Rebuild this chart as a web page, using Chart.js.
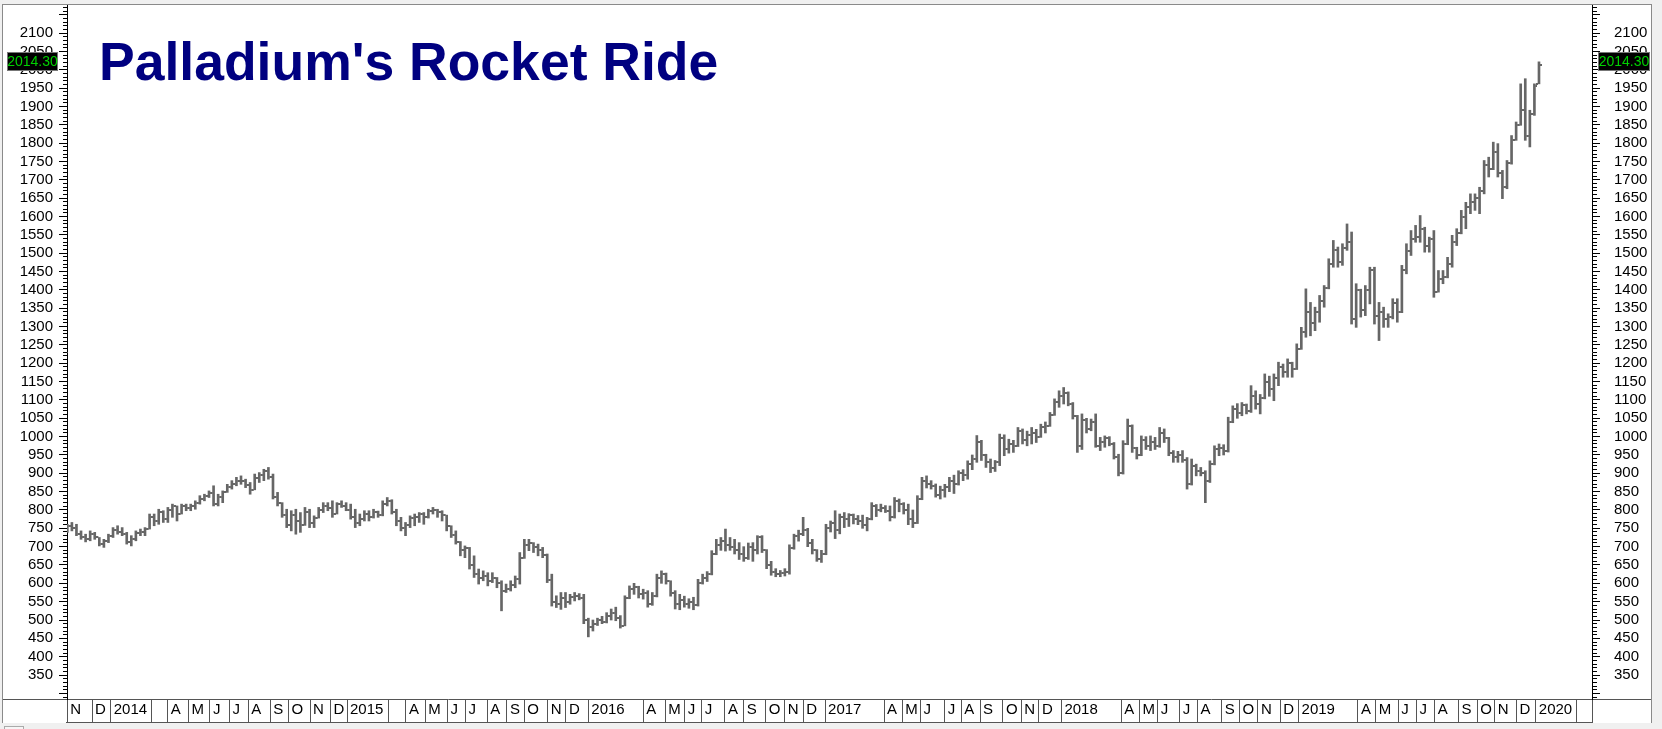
<!DOCTYPE html>
<html>
<head>
<meta charset="utf-8">
<script src="https://cdn.jsdelivr.net/npm/chart.js@4.4.1/dist/chart.umd.min.js"></script>
<style>
  html, body { margin: 0; padding: 0; background: #f0f0f0; }
  #wrap { position: relative; width: 1662px; height: 729px; overflow: hidden; background: #f0f0f0; }
  #panel { position: absolute; left: 2px; top: 4px; width: 1650px; height: 719px; background: #fff;
           border-top: 1px solid #8a8a8a; border-left: 1px solid #8a8a8a; border-right: 1px solid #8a8a8a; box-sizing: border-box; }
  #hline { position: absolute; left: 3px; top: 699px; width: 64px; height: 1px; background: #555; }
  #hline2 { position: absolute; left: 1592px; top: 699px; width: 59px; height: 1px; background: #555; }
  #bline { position: absolute; left: 66px; top: 722px; width: 1527px; height: 1px; background: #555; }
  #tab { position: absolute; left: 4px; top: 726px; width: 18px; height: 10px; border: 1px solid #aaa; background: #f6f6f6; }
  canvas { position: absolute; left: 0; top: 0; }
</style>
</head>
<body>
<div id="wrap">
  <div id="panel"></div>
  <div id="hline"></div>
  <div id="hline2"></div>
  <div id="bline"></div>
  <div id="tab"></div>
  <canvas id="c" width="1662" height="729"></canvas>
</div>
<script>
// ---- Data (weekly OHLC, palladium, Nov 2013 - Jan 2020) ----
const title = "Palladium's Rocket Ride";
const lastLabel = "2014.30";

const opens = [
745,755,750,735,725,720,735,725,708,715,730,745,740,735,712,720,738,740,748,780,
770,795,775,800,810,790,810,805,812,818,830,838,845,815,835,848,862,870,880,878,
868,855,888,895,905,890,835,818,785,760,785,770,760,795,765,778,800,812,805,790,
815,810,800,780,765,775,788,780,795,785,815,825,795,770,752,760,778,782,788,780,
798,800,795,785,755,732,712,690,695,650,625,615,620,605,615,600,580,585,595,612,
670,705,710,700,690,678,610,550,545,560,550,562,565,560,500,480,490,500,495,510,
520,505,485,560,585,590,570,575,545,565,615,625,605,575,545,555,545,550,540,600,
615,625,680,705,715,705,700,690,680,670,700,690,725,690,650,630,625,628,630,695,
728,735,745,710,690,665,680,750,765,745,780,775,785,775,770,760,775,810,800,805,
798,780,825,815,800,775,765,830,880,870,865,840,855,862,880,870,900,895,925,940,
985,950,930,915,930,995,965,980,975,1015,990,1005,1010,1000,1025,1030,1060,1095,1110,1120,
1090,1055,975,1045,1020,1040,975,985,995,980,945,900,980,1030,970,950,990,975,985,975,
1010,995,955,945,950,935,870,920,905,900,880,925,965,970,960,1040,1075,1065,1085,1070,
1110,1090,1105,1150,1130,1160,1190,1175,1200,1185,1240,1285,1340,1310,1340,1370,1405,1470,1510,1475,
1515,1530,1320,1400,1345,1400,1455,1330,1340,1320,1325,1365,1340,1455,1505,1540,1545,1565,1520,1540,
1395,1430,1435,1470,1530,1555,1600,1625,1640,1650,1670,1740,1730,1775,1720,1680,1745,1810,1850,1890,
1820,1880,1962];

const highs = [
761,766,761,743,734,743,739,725,720,734,752,757,752,739,730,743,748,752,789,789,
802,798,807,816,811,816,816,816,825,839,843,852,866,843,852,870,880,889,893,884,
875,898,902,911,916,898,848,820,802,798,802,793,807,802,784,807,820,820,825,820,
825,820,816,802,789,798,798,802,797,825,834,828,802,780,766,784,789,793,793,802,
807,802,798,786,757,743,714,702,698,675,639,634,629,629,616,607,598,607,620,684,
720,720,711,707,698,680,625,566,575,575,570,575,572,570,505,500,505,510,520,530,
535,512,566,593,600,592,584,580,575,625,634,628,607,580,570,565,558,562,611,625,
632,689,720,725,748,725,720,711,700,710,711,730,730,692,660,640,635,640,705,734,
745,780,750,720,692,690,761,770,798,789,793,790,789,785,786,780,820,815,816,812,
811,834,830,820,816,800,839,889,893,880,871,865,870,889,895,907,910,934,950,1003,
990,952,939,935,1007,1005,993,990,1025,1021,1015,1025,1020,1034,1040,1066,1103,1125,1134,1122,
1093,1058,1062,1050,1048,1062,998,1002,1000,984,952,989,1048,1032,971,1002,1000,1002,998,1025,
1021,998,962,960,962,943,939,925,916,907,934,975,980,978,1053,1084,1090,1093,1089,1139,
1125,1115,1171,1165,1171,1203,1198,1212,1203,1253,1298,1403,1366,1353,1385,1412,1485,1535,1517,1526,
1580,1558,1417,1402,1412,1462,1462,1366,1353,1335,1376,1376,1467,1526,1562,1576,1603,1571,1544,1562,
1453,1453,1489,1549,1567,1617,1639,1662,1662,1680,1753,1762,1803,1799,1726,1753,1821,1858,1962,1976,
1890,1962,2022];

const lows = [
739,743,730,720,713,716,720,702,698,711,725,734,730,707,702,716,730,730,748,757,
761,766,766,780,770,789,798,798,802,816,825,834,811,811,820,848,857,866,870,861,
843,855,875,880,884,830,811,780,752,743,734,739,758,752,752,778,793,798,780,789,
807,798,775,752,757,770,770,778,780,784,811,789,757,743,730,752,757,766,761,778,
789,780,770,743,725,707,675,670,639,616,598,607,593,602,588,525,575,579,588,598,
668,689,684,675,670,602,538,534,529,534,543,552,555,490,454,470,485,490,492,500,
498,478,484,558,570,560,557,535,540,563,600,598,565,530,528,535,532,528,538,598,
605,623,678,690,688,690,680,665,660,665,660,680,684,640,622,618,618,620,625,693,
715,730,700,680,660,657,678,740,722,735,752,755,762,760,750,743,773,782,795,793,
770,778,795,789,760,752,763,828,860,857,835,830,835,850,845,868,880,884,910,930,
935,916,902,905,921,948,955,957,973,980,975,980,984,998,1010,1028,1058,1080,1089,1084,
1048,957,965,1010,1016,971,962,971,975,939,893,898,978,957,939,948,965,962,965,971,
984,948,930,930,930,857,868,893,893,820,875,923,948,950,958,1038,1050,1057,1062,1066,
1075,1062,1103,1110,1098,1139,1162,1162,1162,1183,1238,1271,1275,1289,1312,1353,1403,1462,1462,1467,
1508,1307,1298,1326,1330,1362,1307,1262,1298,1298,1321,1312,1338,1444,1494,1530,1530,1503,1503,1380,
1394,1417,1433,1462,1521,1553,1567,1608,1617,1608,1662,1708,1728,1708,1649,1676,1743,1808,1849,1808,
1790,1876,1962];

const closes = [
755,750,735,725,720,735,725,708,715,730,745,740,735,712,720,738,740,748,780,770,
795,775,800,810,790,810,805,812,818,830,838,845,815,835,848,862,870,880,878,868,
855,888,895,905,890,835,818,785,760,785,770,760,795,765,778,800,812,805,790,815,
810,800,780,765,775,788,780,795,785,815,825,795,770,752,760,778,782,788,780,798,
800,795,785,755,732,712,690,695,650,625,615,620,605,615,600,580,585,595,612,670,
705,710,700,690,678,610,550,545,560,550,562,565,560,500,480,490,500,495,510,520,
505,485,560,585,590,570,575,545,565,615,625,605,575,545,555,545,550,540,600,615,
625,680,705,715,705,700,690,680,670,700,690,725,690,650,630,625,628,630,695,728,
735,745,710,690,665,680,750,765,745,780,775,785,775,770,760,775,810,800,805,798,
780,825,815,800,775,765,830,880,870,865,840,855,862,880,870,900,895,925,940,985,
950,930,915,930,995,965,980,975,1015,990,1005,1010,1000,1025,1030,1060,1095,1110,1120,1090,
1055,975,1045,1020,1040,975,985,995,980,945,900,980,1030,970,950,990,975,985,975,1010,
995,955,945,950,935,870,920,905,900,880,925,965,970,960,1040,1075,1065,1085,1070,1110,
1090,1105,1150,1130,1160,1190,1175,1200,1185,1240,1285,1340,1310,1340,1370,1405,1470,1510,1475,1515,
1530,1320,1400,1345,1400,1455,1330,1340,1320,1325,1365,1340,1455,1505,1540,1545,1565,1520,1540,1395,
1430,1435,1470,1530,1555,1600,1625,1640,1650,1670,1740,1730,1775,1720,1680,1745,1810,1850,1890,1820,
1880,1955,2014.3];

// month dividers (position in weeks from first bar) and their labels
const monthPos = [0,5.4,9.5,18.5,22.0,26.5,31.2,35.5,39.6,44.4,48.4,53.1,57.6,61.2,70.2,74.1,78.3,83.2,87.1,91.9,96.2,100.0,105.1,109.1,
  114.0,126.0,130.8,135.1,138.8,143.9,148.0,152.8,157.0,161.0,165.8,178.7,182.7,186.7,192.0,195.6,199.7,204.7,208.7,212.6,
  217.5,230.6,234.6,238.6,243.4,247.3,252.6,256.5,260.5,265.4,269.4,282.4,286.3,291.2,295.2,299.2,304.4,308.5,312.3,317.1,
  321.3,330.3,333.6];
const monthLbl = ['N','D','2014','','A','M','J','J','A','S','O','N','D','2015','','A','M','J','J','A','S','O','N','D',
  '2016','A','M','J','J','A','S','O','N','D','2017','A','M','J','J','A','S','O','N','D',
  '2018','A','M','J','J','A','S','O','N','D','2019','A','M','J','J','A','S','O','N','D',
  '2020','',''];

const Y_MIN = 284.6, Y_MAX = 2177;
const X_MIN = -0.07, X_MAX = 333.6;

// ---- tick images for open (left) and close (right) ----
function tickImg(side) {
  const c = document.createElement('canvas');
  c.width = 6; c.height = 2;
  const g = c.getContext('2d');
  g.fillStyle = '#666666';
  g.fillRect(side === 'L' ? 0 : 4, 0, 2, 2);
  return c;
}
const openImg = tickImg('L'), closeImg = tickImg('R');

const barData = highs.map((h, i) => ({x: i, y: [lows[i], h]}));
const openData = opens.map((v, i) => ({x: i, y: v}));
const closeData = closes.map((v, i) => ({x: i, y: v}));

const FONT = '"Liberation Sans", Arial, sans-serif';

const overlay = {
  id: 'overlay',
  afterDraw(chart) {
    const ctx = chart.ctx;
    const y = chart.scales.y.getPixelForValue(closes[closes.length - 1]) - 3;
    ctx.save();
    ctx.font = '14px ' + FONT;
    ctx.textAlign = 'center';
    ctx.textBaseline = 'middle';
    [[7, 58], [1598, 1650]].forEach(([a, b]) => {
      const top = Math.round(y - 9.5);
      ctx.fillStyle = '#000';
      ctx.fillRect(a, top, b - a, 19);
      ctx.strokeStyle = '#777';
      ctx.lineWidth = 1;
      ctx.strokeRect(a + 0.5, top + 0.5, b - a - 1, 18);
      ctx.fillStyle = '#00d000';
      ctx.fillText(lastLabel, (a + b) / 2, top + 10);
    });
    ctx.font = 'bold 53.5px ' + FONT;
    ctx.fillStyle = '#000080';
    ctx.textAlign = 'left';
    ctx.textBaseline = 'alphabetic';
    ctx.fillText(title, 99, 80);
    ctx.restore();
  }
};

const minorDashLeft = ctx => (Math.round(ctx.tick.value) % 50 === 0 ? [] : [0, 4, 4, 100]);
const minorDashRight = ctx => (Math.round(ctx.tick.value) % 50 === 0 ? [] : [4, 100]);
const yLabel = v => {
  const r = Math.round(v);
  return (r % 50 === 0 && r >= 350 && r <= 2100) ? String(r) : '';
};
const tensTicks = s => {
  const t = [];
  for (let v = Math.ceil(s.min / 10) * 10; v <= s.max; v += 10) t.push({value: v});
  s.ticks = t;
};
const noPad = s => { s.paddingTop = 0; s.paddingBottom = 0; s.paddingLeft = 0; s.paddingRight = 0; };

new Chart(document.getElementById('c'), {
  data: {
    datasets: [
      { type: 'bar', data: barData, backgroundColor: '#666666', borderWidth: 0, barThickness: 2, xAxisID: 'x', yAxisID: 'y', order: 2 },
      { type: 'scatter', data: openData, pointStyle: openImg, xAxisID: 'x', yAxisID: 'y', order: 1 },
      { type: 'scatter', data: closeData, pointStyle: closeImg, xAxisID: 'x', yAxisID: 'y', order: 1 }
    ]
  },
  options: {
    responsive: false,
    devicePixelRatio: 1,
    animation: false,
    events: [],
    layout: { padding: { left: 0, right: 0, top: 5, bottom: 0 } },
    plugins: { legend: { display: false }, tooltip: { enabled: false }, title: { display: false } },
    scales: {
      x: {
        type: 'linear', position: 'bottom', min: X_MIN, max: X_MAX, bounds: 'data', offset: false,
        afterFit: s => { s.height = 30; noPad(s); },
        afterBuildTicks: s => { s.ticks = monthPos.map(v => ({value: v})); },
        border: { display: true, color: '#555', width: 1 },
        grid: { offset: false, drawOnChartArea: false, drawTicks: true, tickLength: 23, tickColor: '#555', tickWidth: 1 },
        ticks: { autoSkip: false, maxRotation: 0, minRotation: 0, align: 'start', labelOffset: 3, padding: -21,
                 color: '#000', font: { family: FONT, size: 15 },
                 callback: (v, i) => monthLbl[i] }
      },
      y: {
        type: 'linear', position: 'left', min: Y_MIN, max: Y_MAX, bounds: 'data',
        afterBuildTicks: tensTicks,
        afterFit: s => { s.width = 67; noPad(s); },
        border: { display: true, color: '#000', width: 1 },
        grid: { drawOnChartArea: false, drawTicks: true, tickLength: 8, tickColor: '#000', tickWidth: 1, tickBorderDash: minorDashLeft },
        ticks: { autoSkip: false, padding: 6, color: '#000',
                 font: { family: FONT, size: 15 }, callback: yLabel }
      },
      y2: {
        type: 'linear', position: 'right', min: Y_MIN, max: Y_MAX, bounds: 'data',
        afterBuildTicks: tensTicks,
        afterFit: s => { s.width = 70; noPad(s); },
        border: { display: true, color: '#000', width: 1 },
        grid: { drawOnChartArea: false, drawTicks: true, tickLength: 8, tickColor: '#000', tickWidth: 1, tickBorderDash: minorDashRight },
        ticks: { autoSkip: false, padding: 14, color: '#000',
                 font: { family: FONT, size: 15 }, callback: yLabel }
      }
    }
  },
  plugins: [overlay]
});
</script>
</body>
</html>
